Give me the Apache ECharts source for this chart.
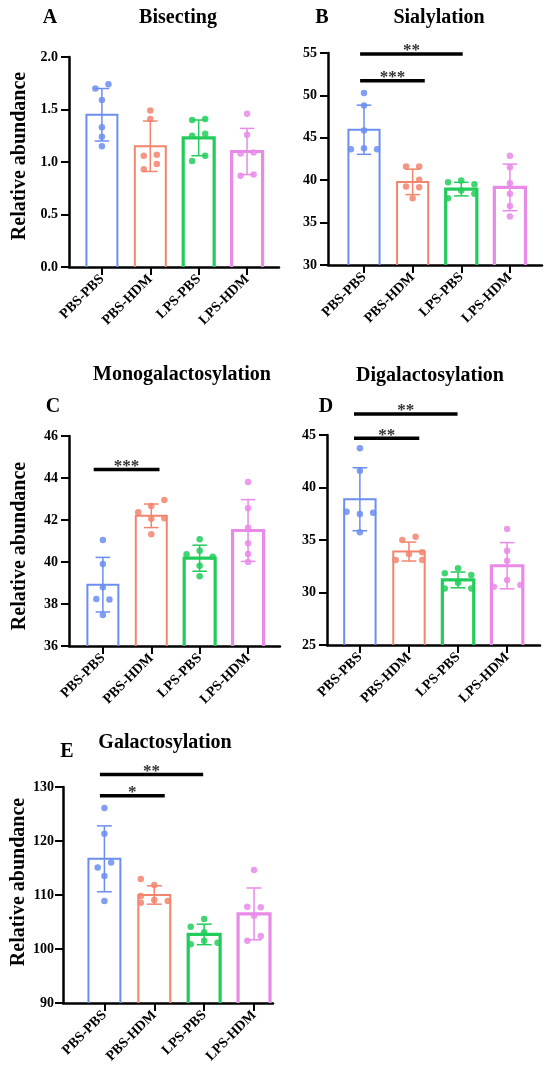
<!DOCTYPE html>
<html>
<head>
<meta charset="UTF-8"/>
<title>Glycosylation</title>
<script src="https://cdn.jsdelivr.net/npm/echarts@6/dist/echarts.min.js"></script>
<style>
html,body{margin:0;padding:0;background:#fff;}
#placeholder{width:550px;height:1086px;}
</style>
</head>
<body>
<div id="placeholder"></div>
<script>
var groups = ['PBS-PBS', 'PBS-HDM', 'LPS-PBS', 'LPS-HDM'];

// A - Bisecting
var bisectingMean = [1.45, 1.15, 1.23, 1.10];
var bisectingSD = [0.25, 0.24, 0.17, 0.22];
var bisectingDots = [[1.70, 1.74, 1.59, 1.33, 1.24, 1.15], [1.49, 1.41, 1.06, 1.07, 0.98, 0.93],
                     [1.40, 1.41, 1.25, 1.27, 1.01, 1.06], [1.46, 1.26, 1.08, 1.09, 0.87, 0.88]];
var bisectingSide = [[-1, 1, 0, 0, 0, 0], [0, 0, -1, 1, 1, -1], [-1, 1, -1, 1, -1, 1], [0, 0, -1, 1, -1, 1]];
var bisectingSig = [];

// B - Sialylation
var sialylationMean = [45.95, 39.8, 38.95, 39.15];
var sialylationSD = [2.9, 1.5, 0.8, 2.75];
var sialylationDots = [[50.28, 48.81, 45.86, 43.66, 43.78, 43.66], [41.61, 41.61, 40.04, 39.25, 39.18, 37.88],
                       [39.77, 39.96, 39.53, 38.78, 37.88, 38.39], [42.87, 41.54, 39.65, 38.39, 36.97, 35.71]];
var sialylationSide = [[0, 0, 0, -2, 0, 2], [-1, 1, 1, -1, 1, 0], [-2, 0, 2, 0, -2, 2], [0, 0, 0, 0, 0, 0]];
var sialylationSig = [[-0.08, 2.03, 54.88, '**'], [-0.08, 1.25, 51.73, '***']];

// C - Monogalactosylation
var monoMean = [38.92, 42.2, 40.18, 41.5];
var monoSD = [1.3, 0.56, 0.62, 1.47];
var monoDots = [[41.05, 39.90, 38.80, 38.24, 38.22, 37.48], [42.95, 42.67, 42.37, 42.06, 42.08, 41.32],
                [41.08, 40.54, 40.37, 40.25, 39.82, 39.32], [43.81, 42.56, 41.63, 40.89, 40.38, 40.0]];
var monoSide = [[0, 0, 0, -1, 1, 0], [2, 0, -2, 0, 2, 0], [0, 0, -2, 2, 0, 0], [0, 0, 0, 0, 0, 0]];
var monoSig = [[-0.19, 1.17, 44.41, '***']];

// D - Digalactosylation
var digalMean = [38.88, 33.9, 31.2, 32.55];
var digalSD = [3.0, 0.9, 0.75, 2.2];
var digalDots = [[43.73, 41.6, 37.70, 37.48, 37.6, 35.73], [35.0, 35.31, 33.67, 33.83, 33.1, 33.1],
                 [32.30, 31.83, 31.67, 30.94, 30.37, 30.37], [36.05, 33.98, 33.03, 31.19, 30.55, 30.71]];
var digalSide = [[0, 0, -2, 0, 2, 0], [-1, 1, 0, 2, -2, 2], [0, -2, 2, 0, -2, 2], [0, 0, 0, 0, -2, 2]];
var digalSig = [[-0.12, 1.99, 47.0, '**'], [-0.12, 1.21, 44.69, '**']];

// E - Galactosylation
var galacMean = [116.7, 110.0, 102.7, 106.5];
var galacSD = [6.1, 1.7, 1.9, 4.8];
var galacDots = [[126.11, 121.34, 116.01, 115.08, 113.54, 108.89], [112.98, 111.87, 109.82, 108.58, 109.08, 108.89],
                 [105.55, 104.12, 103.08, 101.52, 100.9, 101.15], [114.65, 107.83, 107.72, 106.16, 102.39, 101.52]];
var galacSide = [[0, 0, 1, -1, 0, 0], [-2, 0, -2, -2, 0, 2], [0, -2, 0, 0, -2, 2], [0, -1, 1, 0, 1, -1]];
var galacSig = [[-0.09, 1.98, 132.3, '**'], [-0.09, 1.21, 128.4, '*']];

var SERIF = '"Liberation Serif", "Times New Roman", serif';
var colors = ['#6b8ef0', '#f3846e', '#22cc5b', '#e98ae9'];
var barLine = [2, 2, 3.2, 3.2];
var STEP = 0.135, BAR_HALF = 0.32, CAP_HALF = 0.15;

var panels = [
  {title: 'Bisecting', letter: 'A', mean: bisectingMean, sd: bisectingSD, dots: bisectingDots, side: bisectingSide, sig: bisectingSig,
   yMin: 0, yMax: 2, interval: 0.5, digits: 1, grid: [69, 57, 210, 210], xMin: -0.68, xMax: 3.66,
   titleXY: [178, 18], letterXY: [50, 18], yNameXY: [20, 156], labelMargin: 11},
  {title: 'Sialylation', letter: 'B', mean: sialylationMean, sd: sialylationSD, dots: sialylationDots, side: sialylationSide, sig: sialylationSig,
   yMin: 30, yMax: 55, interval: 5, digits: 0, grid: [328, 53, 214, 212], xMin: -0.74, xMax: 3.66,
   titleXY: [439, 18], letterXY: [322, 18], yNameXY: null, labelMargin: 11},
  {title: 'Monogalactosylation', letter: 'C', mean: monoMean, sd: monoSD, dots: monoDots, side: monoSide, sig: monoSig,
   yMin: 36, yMax: 46, interval: 2, digits: 0, grid: [69, 436, 211, 210], xMin: -0.70, xMax: 3.66,
   titleXY: [182, 375], letterXY: [53, 407], yNameXY: [20, 546], labelMargin: 11},
  {title: 'Digalactosylation', letter: 'D', mean: digalMean, sd: digalSD, dots: digalDots, side: digalSide, sig: digalSig,
   yMin: 25, yMax: 45, interval: 5, digits: 0, grid: [327, 435, 213, 210], xMin: -0.67, xMax: 3.67,
   titleXY: [430, 376], letterXY: [326, 407], yNameXY: null, labelMargin: 11},
  {title: 'Galactosylation', letter: 'E', mean: galacMean, sd: galacSD, dots: galacDots, side: galacSide, sig: galacSig,
   yMin: 90, yMax: 130, interval: 10, digits: 0, grid: [63, 787, 210, 216], xMin: -0.83, xMax: 3.38,
   titleXY: [165, 743], letterXY: [67, 752], yNameXY: [19, 882], labelMargin: 9}
];

var option = {animation: false, backgroundColor: '#fff', grid: [], xAxis: [], yAxis: [], series: [], graphic: []};

function label(text, xy, size, rot) {
  return {type: 'text', x: xy[0], y: xy[1], rotation: rot || 0, silent: true,
          style: {text: text, font: 'bold ' + size + 'px ' + SERIF, fill: '#000',
                  textAlign: 'center', textVerticalAlign: 'middle', align: 'center', verticalAlign: 'middle'}};
}

panels.forEach(function (p, i) {
  option.grid.push({left: p.grid[0], top: p.grid[1], width: p.grid[2], height: p.grid[3], containLabel: false});
  option.xAxis.push({
    type: 'value', gridIndex: i, min: p.xMin, max: p.xMax,
    splitLine: {show: false},
    axisLine: {show: true, onZero: false, lineStyle: {color: '#000', width: 2.5}},
    axisTick: {show: true, customValues: [0, 1, 2, 3], length: 8, lineStyle: {color: '#000', width: 2}},
    axisLabel: {show: true, customValues: [0, 1, 2, 3], rotate: 45, margin: 10, color: '#000',
                fontFamily: SERIF, fontWeight: 'bold', fontSize: 14,
                formatter: function (v) { return groups[Math.round(v)]; }}
  });
  option.yAxis.push({
    type: 'value', gridIndex: i, min: p.yMin, max: p.yMax, interval: p.interval,
    splitLine: {show: false},
    axisLine: {show: true, onZero: false, lineStyle: {color: '#000', width: 2.5}},
    axisTick: {show: true, length: 8, lineStyle: {color: '#000', width: 2}},
    axisLabel: {color: '#000', fontFamily: SERIF, fontWeight: 'bold', fontSize: 14, margin: p.labelMargin,
                formatter: function (v) { return v.toFixed(p.digits); }}
  });

  // bars + error bars
  option.series.push({
    type: 'custom', xAxisIndex: i, yAxisIndex: i, silent: true,
    data: p.mean.map(function (m, k) { return [k, m, p.sd[k]]; }),
    renderItem: function (params, api) {
      var k = params.dataIndex, x = api.value(0), m = api.value(1), s = api.value(2);
      var c = colors[k];
      var bl = api.coord([x - BAR_HALF, p.yMin]), tr = api.coord([x + BAR_HALF, m]);
      var hi = api.coord([x, m + s]), lo = api.coord([x, m - s]);
      var cw = api.size([CAP_HALF, 0])[0];
      return {type: 'group', children: [
        {type: 'polyline', shape: {points: [[bl[0], bl[1]], [bl[0], tr[1]], [tr[0], tr[1]], [tr[0], bl[1]]]},
         style: {stroke: c, lineWidth: barLine[k], fill: null}},
        {type: 'line', shape: {x1: hi[0], y1: hi[1], x2: lo[0], y2: lo[1]}, style: {stroke: c, lineWidth: 1.5}},
        {type: 'line', shape: {x1: hi[0] - cw, y1: hi[1], x2: hi[0] + cw, y2: hi[1]}, style: {stroke: c, lineWidth: 1.5}},
        {type: 'line', shape: {x1: lo[0] - cw, y1: lo[1], x2: lo[0] + cw, y2: lo[1]}, style: {stroke: c, lineWidth: 1.5}}
      ]};
    }
  });

  // individual points
  var pts = [];
  p.dots.forEach(function (arr, k) {
    arr.forEach(function (v, j) {
      pts.push({value: [k + p.side[k][j] * STEP, v], itemStyle: {color: colors[k]}});
    });
  });
  option.series.push({
    type: 'scatter', xAxisIndex: i, yAxisIndex: i, silent: true, symbolSize: 6.5,
    itemStyle: {opacity: 0.85}, data: pts, z: 3
  });

  // significance bars
  if (p.sig.length) {
    option.series.push({
      type: 'custom', xAxisIndex: i, yAxisIndex: i, silent: true, clip: false, z: 4,
      data: p.sig.map(function (s) { return [s[0], s[2]]; }),
      renderItem: function (params, api) {
        var s = p.sig[params.dataIndex];
        var a = api.coord([s[0], s[2]]), b = api.coord([s[1], s[2]]);
        return {type: 'group', children: [
          {type: 'line', shape: {x1: a[0], y1: a[1], x2: b[0], y2: b[1]}, style: {stroke: '#000', lineWidth: 3.5}},
          {type: 'text', x: (a[0] + b[0]) / 2, y: a[1] - 3,
           style: {text: s[3], font: 'bold 17px ' + SERIF, fill: '#333',
                   textAlign: 'center', textVerticalAlign: 'middle', align: 'center', verticalAlign: 'middle'}}
        ]};
      }
    });
  }

  option.graphic.push(label(p.title, p.titleXY, 20));
  option.graphic.push(label(p.letter, p.letterXY, 20));
  if (p.yNameXY) option.graphic.push(label('Relative abundance', p.yNameXY, 20, Math.PI / 2));
});

var myChart = echarts.init(document.getElementById('placeholder'));
myChart.setOption(option);
</script>
</body>
</html>
